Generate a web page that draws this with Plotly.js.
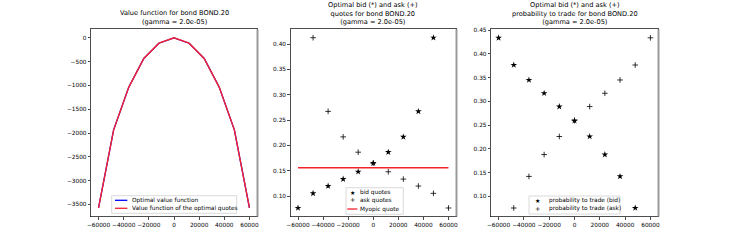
<!DOCTYPE html>
<html>
<head>
<meta charset="utf-8">
<script src="https://cdn.plot.ly/plotly-3.0.1.min.js"></script>
<style>html,body{margin:0;padding:0;background:#fff;}#chart{width:731px;height:244px;}</style>
</head>
<body>
<div id="chart"></div>
<script>
// ---- data ----
const inventory = [-60000, -48000, -36000, -24000, -12000, 0, 12000, 24000, 36000, 48000, 60000];
const optimalValue = [-3575, -1933, -1040, -433, -113, 0, -113, -433, -1040, -1933, -3575];
const quotesValue = [-3575, -1933, -1040, -433, -113, 0, -113, -433, -1040, -1933, -3575];
const bidQuotes = [0.0764, 0.1053, 0.1197, 0.1334, 0.1479, 0.1649, 0.1865, 0.2167, 0.2670, 0.4124, null];
const askQuotes = [null, 0.4124, 0.2670, 0.2167, 0.1865, 0.1649, 0.1479, 0.1334, 0.1197, 0.1053, 0.0764];
const myopicQuote = [0.1558, 0.1558, 0.1558, 0.1558, 0.1558, 0.1558, 0.1558, 0.1558, 0.1558, 0.1558, 0.1558];
const bidProb = [0.4338, 0.3765, 0.3450, 0.3170, 0.2890, 0.2595, 0.2260, 0.1880, 0.1420, 0.0755, null];
const askProb = [null, 0.0755, 0.1420, 0.1880, 0.2260, 0.2595, 0.2890, 0.3170, 0.3450, 0.3765, 0.4338];
const xTicks = [-60000, -40000, -20000, 0, 20000, 40000, 60000];
const yTicks1 = [0, -500, -1000, -1500, -2000, -2500, -3000, -3500];
const yTicks2 = [0.10, 0.15, 0.20, 0.25, 0.30, 0.35, 0.40];
const yTicks3 = [0.10, 0.15, 0.20, 0.25, 0.30, 0.35, 0.40, 0.45];
const titles = [
  "Value function for bond BOND.20<br>(gamma = 2.0e-05)",
  "Optimal bid (*) and ask (+)<br>quotes for bond BOND.20<br>(gamma = 2.0e-05)",
  "Optimal bid (*) and ask (+)<br>probability to trade for bond BOND.20<br>(gamma = 2.0e-05)"
];
const legend1 = ["Optimal value function", "Value function of the optimal quotes"];
const legend2 = ["bid quotes", "ask quotes", "Myopic quote"];
const legend3 = ["probability to trade (bid)", "probability to trade (ask)"];

// ---- layout helpers ----
const W = 731, H = 244;
const px = v => v / W;
const py = v => 1 - v / H;
const FONT = "DejaVu Sans";
const tickFont = {family: FONT, size: 5.8, color: "#000"};
const legFont = {family: FONT, size: 5.8, color: "#000"};
const RED = "#f5222e";

function xax(d0, d1) {
  return {domain: [px(d0), px(d1)], range: [-66000, 66000], tickvals: xTicks,
    tickformat: "d", tickangle: 0, ticks: "outside", ticklen: 2.5, tickwidth: 0.7, tickcolor: "#000",
    showline: true, mirror: true, linecolor: "#222", linewidth: 0.8,
    showgrid: false, zeroline: false, tickfont: tickFont, fixedrange: true};
}
function yax(range, vals, fmt) {
  return {domain: [py(216.5), py(29.3)], range: range, tickvals: vals, tickformat: fmt,
    ticks: "outside", ticklen: 2.5, tickwidth: 0.7, tickcolor: "#000",
    showline: true, mirror: true, linecolor: "#222", linewidth: 0.8,
    showgrid: false, zeroline: false, tickfont: tickFont, fixedrange: true};
}

const traces = [
  {x: inventory, y: optimalValue, type: "scatter", mode: "lines", line: {color: "#0000ff", width: 1.3}, xaxis: "x", yaxis: "y", name: legend1[0], showlegend: false},
  {x: inventory, y: quotesValue, type: "scatter", mode: "lines", line: {color: RED, width: 1.4}, xaxis: "x", yaxis: "y", name: legend1[1], showlegend: false},
  {x: inventory, y: myopicQuote, type: "scatter", mode: "lines", line: {color: RED, width: 1.3}, xaxis: "x2", yaxis: "y2", name: legend2[2], showlegend: false},
  {x: inventory, y: bidQuotes, type: "scatter", mode: "markers", marker: {symbol: "star", size: 5, color: "#000"}, xaxis: "x2", yaxis: "y2", name: legend2[0], showlegend: false},
  {x: inventory, y: askQuotes, type: "scatter", mode: "markers", marker: {symbol: "cross-thin", size: 4, line: {color: "#000", width: 0.8}}, xaxis: "x2", yaxis: "y2", name: legend2[1], showlegend: false},
  {x: inventory, y: bidProb, type: "scatter", mode: "markers", marker: {symbol: "star", size: 5, color: "#000"}, xaxis: "x3", yaxis: "y3", name: legend3[0], showlegend: false},
  {x: inventory, y: askProb, type: "scatter", mode: "markers", marker: {symbol: "cross-thin", size: 4, line: {color: "#000", width: 0.8}}, xaxis: "x3", yaxis: "y3", name: legend3[1], showlegend: false}
];

const panels = [[91, 257], [290.5, 456], [491, 658]];
const annotations = [];
const shapes = [];

// titles
titles.forEach((t, i) => {
  const cx = (panels[i][0] + panels[i][1]) / 2;
  annotations.push({text: t, x: px(cx), y: py(27.5), xref: "paper", yref: "paper",
    xanchor: "center", yanchor: "bottom", showarrow: false,
    font: {family: FONT, size: 6.6, color: "#000"}});
});

// grey right edge like the reference
panels.forEach(p => {
  shapes.push({type: "line", xref: "paper", yref: "paper", x0: px(p[1] + 0.5), x1: px(p[1] + 0.5), y0: py(216.5), y1: py(29.3), line: {color: "#9a9a9a", width: 2}});
});

// legends (drawn manually for compact spacing)
function legendBox(x0, y0, x1, y1) {
  shapes.push({type: "rect", xref: "paper", yref: "paper", x0: px(x0), x1: px(x1), y0: py(y1), y1: py(y0),
    line: {color: "#d0d0d0", width: 0.8}, fillcolor: "rgba(255,255,255,0.85)"});
}
function legendText(txt, x, y) {
  annotations.push({text: txt, x: px(x), y: py(y), xref: "paper", yref: "paper",
    xanchor: "left", yanchor: "middle", showarrow: false, font: legFont});
}
function legendLine(x0, x1, y, color) {
  shapes.push({type: "line", xref: "paper", yref: "paper", x0: px(x0), x1: px(x1), y0: py(y), y1: py(y), line: {color: color, width: 1.3}});
}
function legendSymbol(ch, x, y, size) {
  annotations.push({text: ch, x: px(x), y: py(y), xref: "paper", yref: "paper",
    xanchor: "center", yanchor: "middle", showarrow: false, font: {family: FONT, size: size, color: "#000"}});
}

legendBox(111.7, 195.7, 236.7, 213.3);
legendLine(115, 127.3, 200.3, "#0000ff");
legendLine(115, 127.3, 208.3, RED);
legendText(legend1[0], 130, 200.3);
legendText(legend1[1], 130, 208.3);

legendBox(346, 187.7, 403.3, 214.3);
legendSymbol("★", 352.7, 192.3, 6);
legendSymbol("+", 352.7, 200.3, 6.5);
legendLine(347.3, 357.3, 209, RED);
legendText(legend2[0], 358, 192.3);
legendText(legend2[1], 358, 200.3);
legendText(legend2[2], 358, 209);

legendBox(529, 196, 620, 214);
legendSymbol("★", 537.3, 200.3, 6);
legendSymbol("+", 537.3, 208.7, 6.5);
legendText(legend3[0], 546.5, 200.3);
legendText(legend3[1], 546.5, 208.7);

const layout = {
  width: W, height: H,
  margin: {l: 0, r: 0, t: 0, b: 0, pad: 0},
  paper_bgcolor: "#fff", plot_bgcolor: "#fff",
  showlegend: false,
  font: {family: FONT, color: "#000"},
  xaxis: xax(91, 257),
  yaxis: yax([-3754, 179], yTicks1, "d"),
  xaxis2: xax(290.5, 456),
  yaxis2: yax([0.0596, 0.429], yTicks2, ".2f"),
  xaxis3: xax(491, 658),
  yaxis3: yax([0.0576, 0.4517], yTicks3, ".2f"),
  annotations: annotations,
  shapes: shapes
};
layout.xaxis2.anchor = "y2"; layout.yaxis2.anchor = "x2";
layout.xaxis3.anchor = "y3"; layout.yaxis3.anchor = "x3";

Plotly.newPlot("chart", traces, layout, {staticPlot: true, displayModeBar: false});
</script>
</body>
</html>
